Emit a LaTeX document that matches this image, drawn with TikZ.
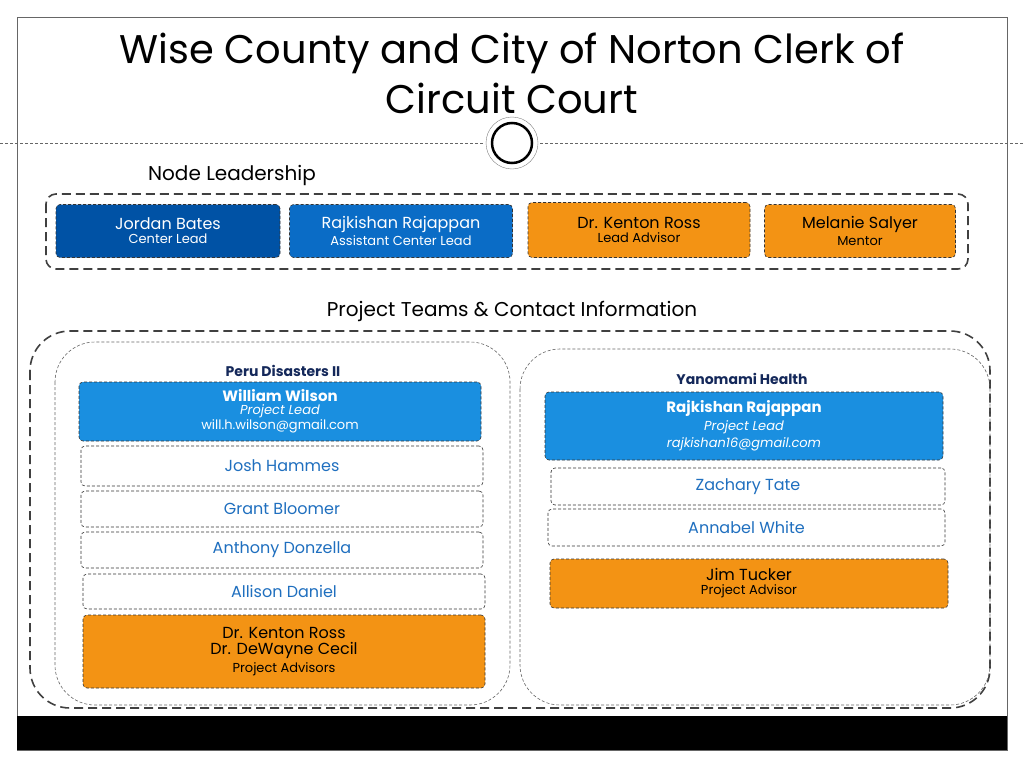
\documentclass[tikz,border=0pt]{standalone}
\usepackage{fontspec}
\setmainfont{Poppins}
\usetikzlibrary{positioning}
\definecolor{darkblue}{HTML}{0052A5}
\definecolor{midblue}{HTML}{0A6CC6}
\definecolor{lightblue}{HTML}{1A8FE0}
\definecolor{orangebox}{HTML}{F39314}
\definecolor{navy}{HTML}{14285A}
\definecolor{textblue}{HTML}{1F6FBF}
\tikzset{
  box/.style={draw=black!80, densely dashed, line width=0.6pt, rounded corners=4pt, inner sep=0pt, align=center},
  leadbox/.style={box, text=white, minimum height=53pt},
  teambox/.style={box, fill=lightblue, text=white, minimum width=402pt},
  membox/.style={box, fill=white, text=textblue, minimum width=402pt, font=\fontsize{16}{18}\selectfont},
  advbox/.style={box, fill=orangebox, text=black, minimum width=402pt},
  groupline/.style={draw=black!75, dashed, dash pattern=on 9pt off 5pt, line width=1.6pt},
  teamline/.style={draw=black!60, densely dashed, line width=0.6pt, rounded corners=40pt}
}
\begin{document}
\begin{tikzpicture}[x=1pt,y=-1pt]
\useasboundingbox (0,0) rectangle (1024,768);
\fill[white] (0,0) rectangle (1024,768);

% frame and bar
\draw[black!60, thin] (17,17) rectangle (1007,750);
\fill[black] (17,716) rectangle (1007,750);

% title
\node (title) at (512,73) [align=center, font=\fontsize{40}{50}\selectfont] {Wise County and City of Norton Clerk of\\Circuit Court};
\draw[black!60, densely dashed, thin] (0,143) -- (484,143);
\draw[black!60, densely dashed, thin] (540,143) -- (1024,143);
\draw[black!50, thin] (512,143) circle (26pt);
\draw[black, line width=2.5pt] (512,143) circle (20pt);

% node leadership
\node (leadhead) at (232,175) [font=\fontsize{20}{22}\selectfont] {Node Leadership};
\draw[groupline, rounded corners=10pt] (46,194) rectangle (968,269);
\node (bates) at (168,231) [leadbox, fill=darkblue, minimum width=224pt] {{\fontsize{16}{20}\selectfont Jordan Bates}\\[2pt]{\fontsize{13}{16}\selectfont Center Lead}};
\node (raj) at (401,231) [leadbox, fill=midblue, minimum width=223pt] {{\fontsize{16}{20}\selectfont Rajkishan Rajappan}\\[2pt]{\fontsize{13}{16}\selectfont Assistant Center Lead}};
\node (ross) at (639,230) [leadbox, fill=orangebox, text=black, minimum width=222pt, minimum height=55pt] {{\fontsize{16}{20}\selectfont Dr. Kenton Ross}\\[2pt]{\fontsize{13}{16}\selectfont Lead Advisor}};
\node (salyer) at (860,231) [leadbox, fill=orangebox, text=black, minimum width=191pt] {{\fontsize{16}{20}\selectfont Melanie Salyer}\\[2pt]{\fontsize{13}{16}\selectfont Mentor}};

% project teams
\node (teamhead) at (512,311) [font=\fontsize{20}{22}\selectfont] {Project Teams \& Contact Information};
\draw[groupline, rounded corners=40pt] (30,331) rectangle (990,708);
\draw[teamline] (55,342) rectangle (510,705);
\draw[teamline] (520,349) rectangle (990,705);

% Peru Disasters II
\node (peru) at (283,371) [text=navy, font=\bfseries\fontsize{14}{16}\selectfont] {Peru Disasters II};
\node (wilson) at (280,411.5) [teambox, minimum height=59pt] {{\bfseries\fontsize{15}{19}\selectfont William Wilson}\\[1pt]{\itshape\fontsize{13}{18}\selectfont Project Lead}\\[1pt]{\fontsize{13}{16}\selectfont will.h.wilson@gmail.com}};
\node (hammes) at (282,466) [membox, minimum height=40pt] {Josh Hammes};
\node (bloomer) at (282,509) [membox, minimum height=36pt] {Grant Bloomer};
\node (donzella) at (282,550) [membox, minimum height=36pt] {Anthony Donzella};
\node (daniel) at (284,591.5) [membox, minimum height=35pt] {Allison Daniel};
\node (peruadv) at (284,651.5) [advbox, minimum height=73pt] {{\fontsize{16}{23}\selectfont Dr. Kenton Ross}\\[3pt]{\fontsize{16}{23}\selectfont Dr. DeWayne Cecil}\\[3pt]{\fontsize{13}{20}\selectfont Project Advisors}};

% Yanomami Health
\node (yano) at (742,379) [text=navy, font=\bfseries\fontsize{14}{16}\selectfont] {Yanomami Health};
\node (rajlead) at (744,426) [teambox, minimum width=398pt, minimum height=68pt] {{\bfseries\fontsize{15}{20}\selectfont Rajkishan Rajappan}\\[3pt]{\itshape\fontsize{13}{18}\selectfont Project Lead}\\[3pt]{\itshape\fontsize{13}{18}\selectfont rajkishan16@gmail.com}};
\node (tate) at (748,486.5) [membox, minimum width=394pt, minimum height=37pt] {Zachary Tate};
\node (white) at (746.5,527.5) [membox, minimum width=397pt, minimum height=37pt] {Annabel White};
\node (tucker) at (749,583.5) [advbox, minimum width=398pt, minimum height=49pt] {{\fontsize{16}{20}\selectfont Jim Tucker}\\[2pt]{\fontsize{13}{16}\selectfont Project Advisor}};
\end{tikzpicture}
\end{document}
